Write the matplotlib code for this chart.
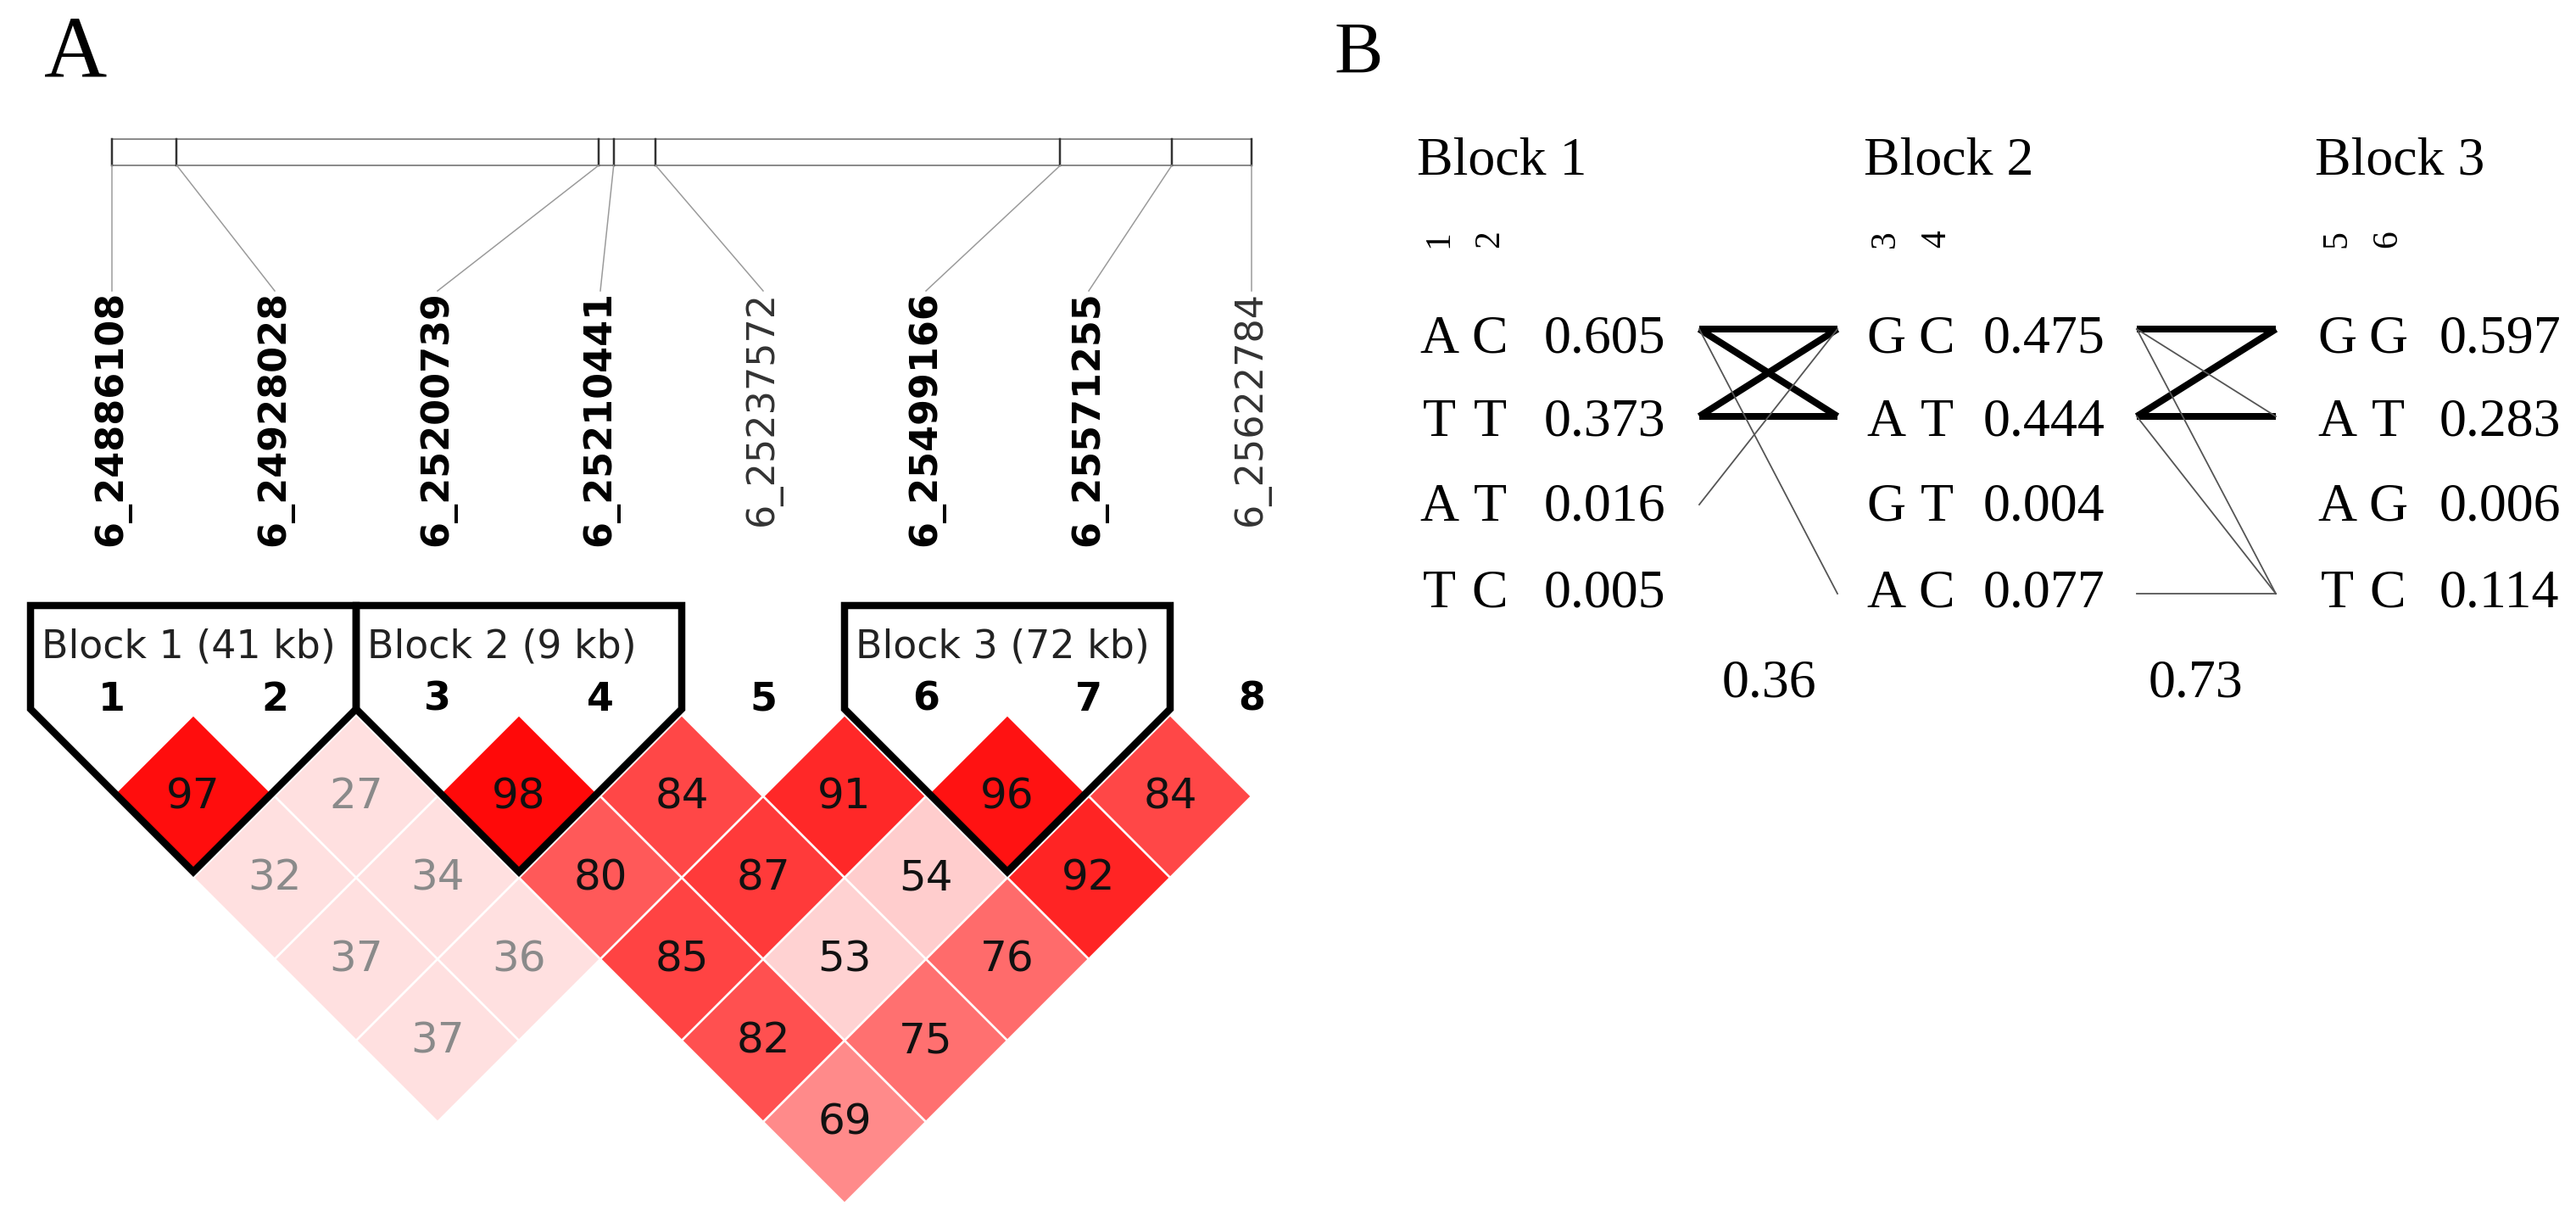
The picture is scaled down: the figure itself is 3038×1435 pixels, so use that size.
import numpy as np
import matplotlib.pyplot as plt
from matplotlib.patches import Polygon, Rectangle

# ---- data ----
marker_names = ['6_24886108', '6_24928028', '6_25200739', '6_25210441',
                '6_25237572', '6_25499166', '6_25571255', '6_25622784']
marker_pos = [24886108, 24928028, 25200739, 25210441,
              25237572, 25499166, 25571255, 25622784]
marker_bold = [True, True, True, True, False, True, True, False]

# D' (x100) by distance between markers; None = no box drawn
dprime_rows = [
    [97, 27, 98, 84, 91, 96, 84],
    [32, 34, 80, 87, 54, 92],
    [37, 36, 85, 53, 76],
    [37, None, 82, 75],
    [None, None, 69],
]

block_markers = [(0, 1), (2, 3), (5, 6)]
block_kb = [41, 9, 72]

# haplotype panel
hap_alleles = [['AC', 'TT', 'AT', 'TC'],
               ['GC', 'AT', 'GT', 'AC'],
               ['GG', 'AT', 'AG', 'TC']]
hap_freqs = [[0.605, 0.373, 0.016, 0.005],
             [0.475, 0.444, 0.004, 0.077],
             [0.597, 0.283, 0.006, 0.114]]
hap_marker_nums = [['1', '2'], ['3', '4'], ['5', '6']]
# (from row, to row, thick?)
hap_links = [
    [(0, 0, True), (0, 1, True), (1, 0, True), (1, 1, True), (0, 3, False), (2, 0, False)],
    [(0, 0, True), (1, 0, True), (1, 1, True), (0, 1, False), (0, 3, False), (1, 3, False), (3, 3, False)],
]
multi_d = [0.36, 0.73]

# ---- figure in pixel coords ----
W, H = 3038, 1435
fig = plt.figure(figsize=(W/100, H/100), dpi=100)
ax = fig.add_axes([0, 0, 1, 1])
ax.set_xlim(0, W)
ax.set_ylim(H, 0)
ax.axis('off')
px = 0.72  # px -> pt

sans = 'DejaVu Sans'
serif = 'Liberation Serif'

# panel letters
ax.text(89, 91, 'A', fontsize=74, family=serif, ha='center', va='baseline')
ax.text(1574, 86, 'B', fontsize=62, family=serif, ha='left', va='baseline')

# ---- panel A ----
n = len(marker_names)
x0, x1 = 132, 1476
mx = np.linspace(x0, x1, n)
half = (mx[1]-mx[0])/2

# chromosome bar
pos = np.array(marker_pos, dtype=float)
bx = x0 + (pos-pos[0])/(pos[-1]-pos[0])*(x1-x0)
bar_top, bar_bot = 164, 195
ax.add_patch(Rectangle((x0, bar_top), x1-x0, bar_bot-bar_top, fill=False,
                       edgecolor='#8c8c8c', lw=2*px))
lab_top = 343
for i in range(n):
    ax.plot([bx[i], bx[i]], [bar_top, bar_bot], color='#333333', lw=2.5*px)
    ax.plot([bx[i], mx[i]], [bar_bot, lab_top], color='#9a9a9a', lw=1.5*px)
    ax.text(mx[i], lab_top, marker_names[i], rotation=90, ha='center', va='top',
            fontsize=32, family=sans,
            fontweight='bold' if marker_bold[i] else 'normal',
            color='black' if marker_bold[i] else '#333333')

# LD diamonds
row1_y = 939


def d_color(d):
    d = d/100.
    if d < 0.5:
        return (1.0, 224/255., 224/255.)
    g = (255-32)*2*(1-d)/255.
    return (1.0, g, g)


for k, row in enumerate(dprime_rows):
    for i, v in enumerate(row):
        if v is None:
            continue
        j = i+k+1
        cx = (mx[i]+mx[j])/2
        cy = row1_y + k*half
        ax.add_patch(Polygon([(cx, cy-half), (cx+half, cy), (cx, cy+half), (cx-half, cy)],
                             closed=True, facecolor=d_color(v), edgecolor='white', lw=2.5*px))
        ax.text(cx, cy, str(v), ha='center', va='center', fontsize=36, family=sans,
                color='#111111' if v >= 50 else '#8a8a8a')

# block outlines
box_top, side_bot = 714, 836
for b, (a, c) in enumerate(block_markers):
    left, right = mx[a]-half, mx[c]+half
    bot = side_bot + (right-left)/2
    ax.add_patch(Polygon([(left, box_top), (right, box_top), (right, side_bot),
                          ((left+right)/2, bot), (left, side_bot)],
                         closed=True, fill=False, edgecolor='black', lw=8.5*px,
                         joinstyle='miter'))
    ax.text(left+13, 776, 'Block %d (%d kb)' % (b+1, block_kb[b]), ha='left', va='baseline',
            fontsize=33, family=sans, color='#222222')

for i in range(n):
    ax.text(mx[i], 825, str(i+1), ha='center', va='center', fontsize=33,
            family=sans, fontweight='bold')

# ---- panel B ----
blk_left = [1671, 2198, 2730]
freq_dx = [150, 141, 147]
allele_dx = [26, 86]
text_base = [416, 514, 614, 716]
line_y = [388, 491, 595, 700]
fs = 46
for b in range(3):
    L = blk_left[b]
    ax.text(L, 205, 'Block %d' % (b+1), ha='left', va='baseline', fontsize=fs, family=serif)
    for m in range(2):
        ax.text(L+allele_dx[m], 282, hap_marker_nums[b][m], rotation=90, ha='center',
                va='center', fontsize=30, family=serif)
    for r in range(4):
        for m in range(2):
            ax.text(L+allele_dx[m], text_base[r], hap_alleles[b][r][m], ha='center',
                    va='baseline', fontsize=fs, family=serif)
        ax.text(L+freq_dx[b], text_base[r], '%.3f' % hap_freqs[b][r], ha='left',
                va='baseline', fontsize=fs, family=serif)

link_x = [(2004, 2167), (2520, 2684)]
for g, links in enumerate(hap_links):
    xa, xb = link_x[g]
    for (ra, rb, thick) in links:
        if thick:
            ax.plot([xa, xb], [line_y[ra], line_y[rb]], color='black', lw=8*px,
                    solid_capstyle='butt')
        else:
            ax.plot([xa, xb], [line_y[ra], line_y[rb]], color='#555555', lw=1.8*px)

md_x = [2086, 2590]
for g in range(2):
    ax.text(md_x[g], 822, '%.2f' % multi_d[g], ha='center', va='baseline',
            fontsize=fs, family=serif)

fig.savefig('out.png', dpi=100)
